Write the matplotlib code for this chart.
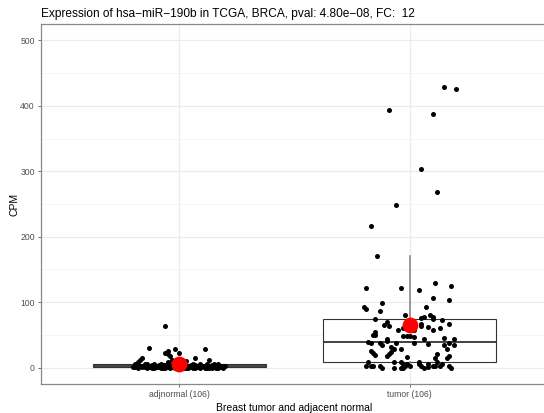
import numpy as np
import matplotlib.pyplot as plt

plt.rcParams['font.family'] = ['Liberation Sans', 'DejaVu Sans']

title = 'Expression of hsa\u2212miR\u2212190b in TCGA, BRCA, pval: 4.80e\u221208, FC:  12'
groups = ['adjnormal (106)', 'tumor (106)']

# CPM per sample and the horizontal jitter used for each dot
normal_cpm = [64, 30, 29, 29, 26, 23, 23, 21, 18, 14, 14, 11, 11, 12, 9, 10, 8,
              5.5, 6.0, 5.0, 6.5, 5.2, 5.8, 6.2, 5.0, 5.5, 6.0,
              4.8, 4.5, 4.2, 4.0, 3.8, 3.6, 3.5, 3.3, 3.1, 3.0, 2.9, 2.8, 2.6,
              2.5, 2.4, 2.3, 2.2, 2.1, 2.0, 4.6, 3.9, 3.4, 2.7, 4.1, 3.2, 2.05,
              1.9, 1.8, 1.7, 1.6, 1.5, 1.4, 1.3, 1.2, 1.1, 1.0, 0.9, 0.8, 0.7,
              0.6, 0.5, 0.45, 0.4, 0.35, 1.95, 1.65, 1.25, 0.95, 0.75, 0.55, 1.85, 1.45,
              0.3, 0.28, 0.25, 0.22, 0.2, 0.18, 0.15, 0.12, 0.1, 0.08, 0.05, 0.03,
              0.02, 0.0, 0.0, 0.0, 0.0, 0.0, 0.0, 0.0, 0.0, 0.0, 0.0, 0.1, 0.2, 0.15, 0.05]
normal_jit = [-0.06, -0.13, -0.02, 0.11, -0.05, -0.06, 0.00, -0.05, -0.04, 0.07, -0.16, -0.17, 0.13, -0.03, -0.05, 0.03, -0.18,
              -0.19, -0.11, -0.08, 0.01, 0.06, 0.09, 0.12, 0.15, 0.17, -0.14,
              -0.15, -0.12, -0.09, -0.07, -0.04, -0.01, 0.02, 0.05, 0.08, 0.10, 0.13, 0.16, 0.19,
              -0.18, -0.13, -0.10, -0.02, 0.04, 0.11, -0.06, 0.07, 0.14, -0.16, 0.00, 0.18, -0.11,
              -0.17, -0.14, -0.10, -0.08, -0.05, -0.03, 0.01, 0.03, 0.06, 0.09, 0.12, 0.15, 0.18,
              -0.19, -0.12, -0.07, -0.01, 0.05, 0.10, 0.14, 0.17, -0.15, -0.04, 0.08, 0.20, -0.09,
              -0.20, -0.16, -0.13, -0.10, -0.06, -0.02, 0.02, 0.06, 0.09, 0.12, 0.16, 0.19,
              -0.18, -0.14, -0.11, -0.08, -0.04, 0.00, 0.04, 0.07, 0.11, 0.14, 0.17, -0.07, 0.03, 0.13, -0.12]

tumor_cpm = [428, 425, 393, 387, 303, 268, 249, 217, 170, 121, 121, 130, 124, 118, 106, 104,
             99, 93, 90, 86, 92, 76, 81, 78, 73, 74, 69, 64, 75, 67, 67, 63, 61, 58, 57,
             50, 50, 49, 49, 49, 47, 44, 46, 44, 43, 40, 38, 37, 35, 38, 38, 35, 34, 29,
             31, 28, 24, 21, 29, 26, 23, 20, 21, 15, 18, 14, 18, 17, 9, 9, 2, 3, 3, 3,
             9, 8, 6, 0, 0, 0, 5, 2, 9, 6, 3, 0, 5, 2, 2, 2, 2, 0,
             0, 1, 3, 5, 38, 36, 39, 60, 65, 80, 62, 55, 78, 58]
tumor_jit = [0.15, 0.20, -0.09, 0.10, 0.05, 0.12, -0.06, -0.17, -0.14, -0.19, -0.04, 0.11, 0.18, 0.04, 0.10, 0.17,
             -0.12, -0.20, -0.19, -0.13, 0.07, 0.05, 0.09, 0.10, 0.14, -0.15, -0.10, -0.09, 0.10, 0.17, 0.05, 0.05, -0.03, 0.02, 0.10,
             -0.16, -0.15, -0.03, -0.01, 0.00, 0.02, 0.06, 0.15, 0.19, -0.10, -0.10, -0.17, -0.13, -0.12, 0.02, 0.17, 0.19, 0.15, 0.16,
             -0.08, -0.07, -0.08, -0.09, -0.04, -0.17, -0.16, -0.15, 0.12, 0.11, 0.17, 0.16, -0.10, -0.01, 0.12, -0.18, -0.19, -0.17, -0.16, -0.13,
             -0.07, -0.04, -0.03, -0.07, -0.04, -0.03, -0.01, 0.00, 0.04, 0.04, 0.05, 0.06, 0.08, 0.10, 0.11, 0.13, 0.17, 0.18,
             -0.12, 0.08, -0.02, 0.14, -0.06, 0.08, -0.18, 0.13, -0.11, -0.02, 0.08, -0.15, 0.06, -0.05]

data = [np.array(normal_cpm), np.array(tumor_cpm)]
jits = [np.array(normal_jit), np.array(tumor_jit)]
pos = [1, 2]

W, H = 544, 413
fig = plt.figure(figsize=(W / 100, H / 100), dpi=100)
ax = fig.add_axes([41 / W, 1 - 384 / H, (548 - 41) / W, (384 - 24) / H])

ax.boxplot(data, positions=pos, widths=0.75, showfliers=False, patch_artist=True,
           boxprops=dict(facecolor='white', edgecolor='#333333', linewidth=0.8),
           medianprops=dict(color='#333333', linewidth=1.3),
           whiskerprops=dict(color='#808080', linewidth=1.1),
           capprops=dict(visible=False), zorder=2)

for p, d, j in zip(pos, data, jits):
    ax.scatter(p + j, d, s=13, color='black', linewidths=0, zorder=3)
    ax.scatter([p], [d.mean()], s=130, color='red', linewidths=0, zorder=4)

ax.set_xlim(0.4, 2.6)
ax.set_ylim(-25, 525)
ax.set_xticks(pos)
ax.set_xticklabels(groups)
ax.set_yticks(np.arange(0, 501, 100))
ax.set_yticks(np.arange(50, 500, 100), minor=True)
ax.grid(True, which='major', color='#ebebeb', linewidth=0.9, zorder=0)
ax.grid(True, which='minor', axis='y', color='#f4f4f4', linewidth=0.6, zorder=0)
ax.set_axisbelow(True)
ax.tick_params(axis='both', which='major', length=2.5, width=0.6, color='#555555',
               labelsize=6.2, labelcolor='#4d4d4d', pad=2)
ax.tick_params(which='minor', length=0)
for s in ax.spines.values():
    s.set_color('#888888')
    s.set_linewidth(0.9)

ax.set_xlabel('Breast tumor and adjacent normal', fontsize=7.5, labelpad=3)
ax.set_ylabel('CPM', fontsize=7.5)
ax.yaxis.set_label_coords(-(41 - 20) / (548 - 41), 0.5)
fig.text(41 / W, 1 - 17 / H, title, ha='left', va='baseline', fontsize=8.6)

fig.savefig('out.png', dpi=100)
